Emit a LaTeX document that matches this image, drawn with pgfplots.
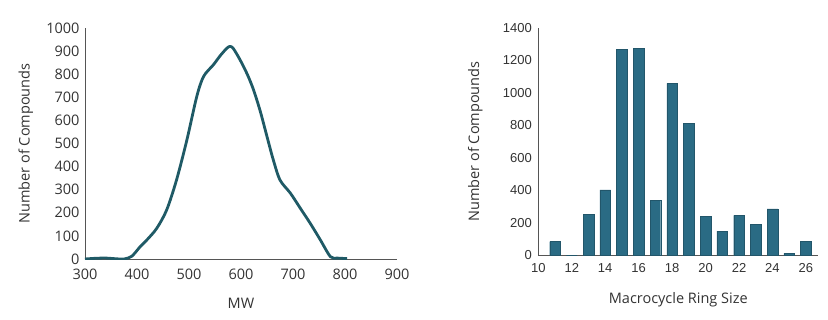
\documentclass[border=0pt]{standalone}
\usepackage{pgfplots}
\pgfplotsset{compat=1.18}
\usepackage{fontspec}
\setmainfont{Open Sans}
\newfontfamily\arialf{Liberation Sans}
\definecolor{linec}{HTML}{1F5A66}
\definecolor{barc}{HTML}{2A6B84}
\definecolor{axc}{HTML}{555555}
\definecolor{txc}{HTML}{333333}
\begin{document}
\begin{tikzpicture}[x=1pt,y=1pt]
\path[use as bounding box] (0,0) rectangle (828,319);
\begin{axis}[
  at={(85pt,60pt)}, anchor=origin,
  scale only axis, width=312pt, height=231pt,
  xmin=300, xmax=900, ymin=0, ymax=1000,
  xtick={300,400,...,900}, ytick={0,100,...,1000},
  axis x line*=bottom, axis y line*=left,
  axis line style={axc, line width=0.9pt, -},
  major tick length=0pt,
  /pgf/number format/assume math mode=true,
  /pgf/number format/set thousands separator={},
  tick label style={font=\fontsize{14.5}{16}\selectfont, text=txc},
  xticklabel style={yshift=-6pt},
  yticklabel style={xshift=-2pt},
  xlabel={MW}, ylabel={Number of Compounds},
  label style={font=\fontsize{14.5}{16}\selectfont, text=txc},
  xlabel style={at={(axis description cs:0.5,-0.19)}, anchor=center},
  ylabel style={at={(axis description cs:-0.19,0.5)}, anchor=center},
]
\addplot[linec, line width=2.8pt, smooth, tension=0.5] coordinates {
(300,0)(320,3)(340,4)(360,1)(375,0)(390,12)(406,53)(420,85)(438,133)(457,212)(476,342)(496,516)(515,704)(528,790)(547,841)(560,880)(573,913)(579,920)(585,912)(598,863)(612,800)(624,733)(637,640)(650,530)(662,430)(675,342)(695,285)(714,220)(733,155)(752,85)(772,10)(785,4)(804,2)
};
\end{axis}
\begin{axis}[
  at={(538.3pt,63.7pt)}, anchor=origin,
  scale only axis, width=280pt, height=227.6pt,
  xmin=10, xmax=26.74, ymin=0, ymax=1400,
  xtick={10,12,...,26}, ytick={0,200,...,1400},
  axis x line*=bottom, axis y line*=left,
  axis line style={axc, line width=0.9pt, -},
  major tick length=0pt,
  /pgf/number format/assume math mode=true,
  /pgf/number format/set thousands separator={},
  tick label style={font=\arialf\fontsize{13}{15}\selectfont, text=txc},
  xticklabel style={yshift=-5pt},
  yticklabel style={xshift=-3pt},
  xlabel={Macrocycle Ring Size}, ylabel={Number of Compounds},
  label style={font=\fontsize{14.5}{16}\selectfont, text=txc},
  xlabel style={at={(axis description cs:0.5,-0.195)}, anchor=center},
  ylabel style={at={(axis description cs:-0.225,0.5)}, anchor=center},
]
\addplot[ybar, bar width=10.7pt, fill=barc, draw=barc!80!black, line width=0.3pt] coordinates {
(11,84)(12,0)(13,254)(14,402)(15,1267)(16,1273)(17,340)(18,1058)(19,812)(20,238)(21,148)(22,246)(23,191)(24,285)(25,12)(26,84)
};
\end{axis}
\end{tikzpicture}
\end{document}
